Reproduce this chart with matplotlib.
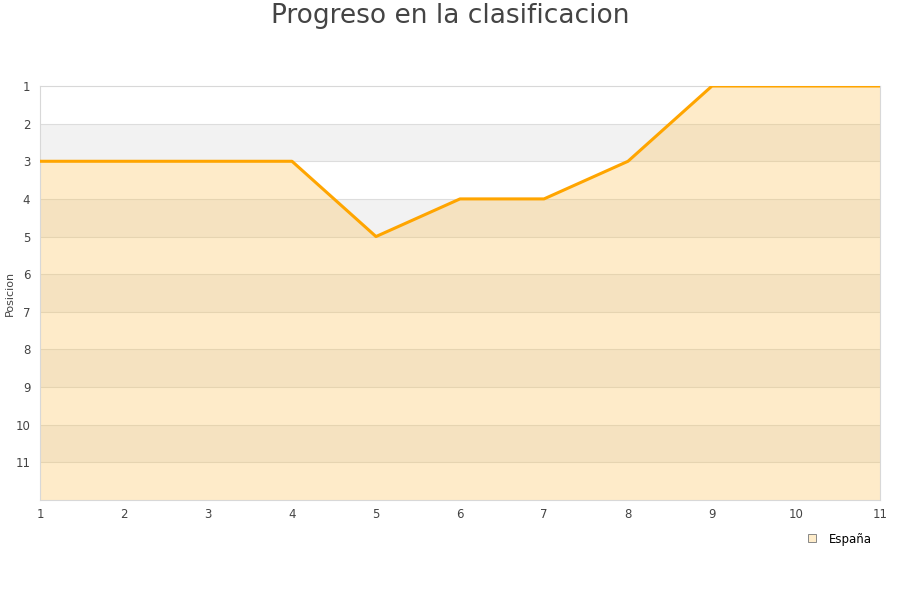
import matplotlib
matplotlib.use("Agg")
import matplotlib.pyplot as plt
from matplotlib.lines import Line2D

jornadas = [1, 2, 3, 4, 5, 6, 7, 8, 9, 10, 11]
posicion = [3, 3, 3, 3, 5, 4, 4, 3, 1, 1, 1]
yticks = [1, 2, 3, 4, 5, 6, 7, 8, 9, 10, 11]
serie = "España"

fig = plt.figure(figsize=(9, 6), dpi=100)
ax = fig.add_axes([40/900, 1-500/600, 840/900, 414/600])

ax.set_xlim(1, 11)
ax.set_ylim(12, 1)

# alternating bands
for y in range(1, 12):
    if y % 2 == 0:
        ax.axhspan(y, y+1, color="#f2f2f2", zorder=0, lw=0)
for y in range(2, 12):
    ax.axhline(y, color="#dddddd", lw=0.8, zorder=0.5)

ax.fill_between(jornadas, posicion, 12, color=(252/255, 192/255, 78/255), alpha=0.3, lw=0, zorder=1)
ax.plot(jornadas, posicion, color="#ffa500", lw=2.2, zorder=3, solid_capstyle="butt")

ax.set_xticks(jornadas)
ax.set_yticks(yticks)
ax.tick_params(axis="both", length=0, labelsize=8.5, colors="#444444")
ax.tick_params(axis="x", pad=6)
ax.tick_params(axis="y", pad=7)
for s in ax.spines.values():
    s.set_color("#d8d8d8")
    s.set_linewidth(0.8)

ax.set_ylabel("Posicion", fontsize=8, color="#444444")
ax.yaxis.set_label_coords(-25/840, 0.5)

fig.text(0.5, 1-16/600, "Progreso en la clasificacion", ha="center", va="center",
         fontsize=19, color="#444444")

h = Line2D([0], [0], marker="s", ls="none", markersize=6,
           markerfacecolor="#feecca", markeredgecolor="#888888", markeredgewidth=0.7)
fig.legend([h], [serie], loc="center", bbox_to_anchor=(836/900, 1-539/600),
           frameon=False, fontsize=8.5, handletextpad=0.4, borderaxespad=0)

fig.savefig("out.png", dpi=100)
